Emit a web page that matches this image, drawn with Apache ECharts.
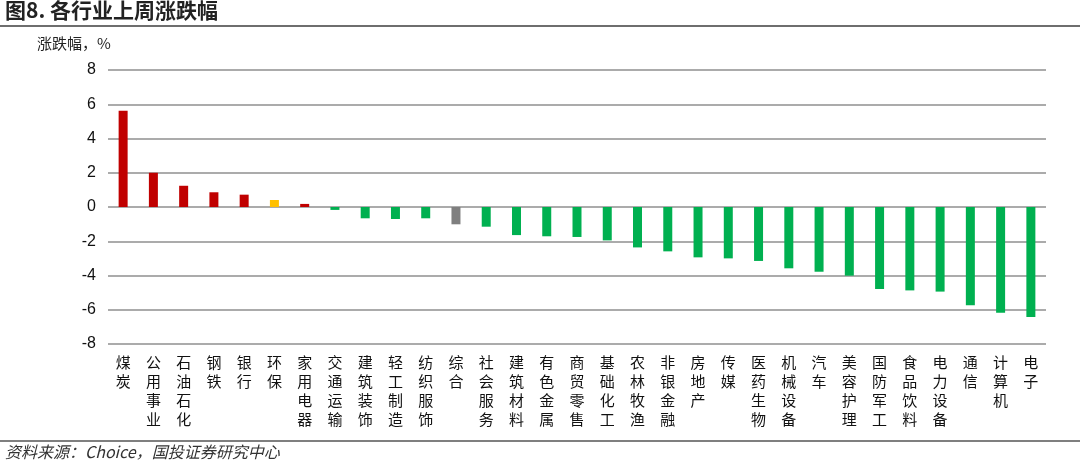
<!DOCTYPE html>
<html>
<head>
<meta charset="utf-8">
<script src="https://cdn.jsdelivr.net/npm/echarts@6/dist/echarts.min.js"></script>
<style>
html,body{margin:0;padding:0;background:#fff;}
#c{width:1080px;height:467px;}
</style>
</head>
<body>
<div id="c"></div>
<script>
const categories = ['煤炭','公用事业','石油石化','钢铁','银行','环保','家用电器','交通运输','建筑装饰','轻工制造','纺织服饰','综合','社会服务','建筑材料','有色金属','商贸零售','基础化工','农林牧渔','非银金融','房地产','传媒','医药生物','机械设备','汽车','美容护理','国防军工','食品饮料','电力设备','通信','计算机','电子'];
const changes = [5.62, 2.00, 1.24, 0.86, 0.72, 0.41, 0.18, -0.17, -0.66, -0.70, -0.66, -1.01, -1.15, -1.64, -1.71, -1.75, -1.95, -2.36, -2.59, -2.94, -3.00, -3.15, -3.58, -3.78, -4.01, -4.79, -4.87, -4.94, -5.74, -6.17, -6.42];
const yTicks = [-8, -6, -4, -2, 0, 2, 4, 6, 8];

const UP = '#C00000', DOWN = '#00B050';
const special = {'环保': '#FFC000', '综合': '#7F7F7F'};

const chart = echarts.init(document.getElementById('c'), null, {renderer: 'canvas'});
const cjk = '"Noto Sans CJK SC", "Noto Sans", sans-serif';

chart.setOption({
  animation: false,
  backgroundColor: '#fff',
  grid: {left: 108, right: 34, top: 70, bottom: 123},
  graphic: [
    {type: 'text', left: 5, top: 0, style: {text: '图8. 各行业上周涨跌幅', font: 'bold 21px ' + cjk, fill: '#222'}},
    {type: 'rect', shape: {x: 0, y: 25, width: 1080, height: 2}, style: {fill: '#6E6E6E'}},
    {type: 'text', left: 37, top: 36, style: {text: '涨跌幅，%', font: '15px ' + cjk, fill: '#222'}},
    {type: 'rect', shape: {x: 0, y: 440, width: 1080, height: 2}, style: {fill: '#7F7F7F'}},
    {type: 'text', left: 5, top: 444, style: {text: '资料来源：Choice，国投证券研究中心', font: 'italic 16px ' + cjk, fill: '#333'}}
  ],
  xAxis: {
    type: 'category',
    data: categories,
    position: 'bottom',
    axisLine: {show: false, onZero: false},
    axisTick: {show: false},
    axisLabel: {
      interval: 0,
      margin: 9,
      fontSize: 15,
      lineHeight: 19,
      color: '#111',
      fontFamily: cjk,
      verticalAlign: 'top',
      formatter: v => v.split('').join('\n')
    }
  },
  yAxis: {
    type: 'value',
    min: yTicks[0],
    max: yTicks[yTicks.length - 1],
    interval: yTicks[1] - yTicks[0],
    axisLine: {show: false},
    axisTick: {show: false},
    axisLabel: {fontSize: 16, color: '#111', margin: 12, fontFamily: '"Liberation Sans", Arial, sans-serif'},
    splitLine: {show: true, lineStyle: {color: '#ABABAB', width: 2}}
  },
  series: [{
    type: 'bar',
    barWidth: 9,
    data: changes.map((v, i) => ({
      value: v,
      itemStyle: {color: special[categories[i]] || (v >= 0 ? UP : DOWN)}
    }))
  }]
});
</script>
</body>
</html>
